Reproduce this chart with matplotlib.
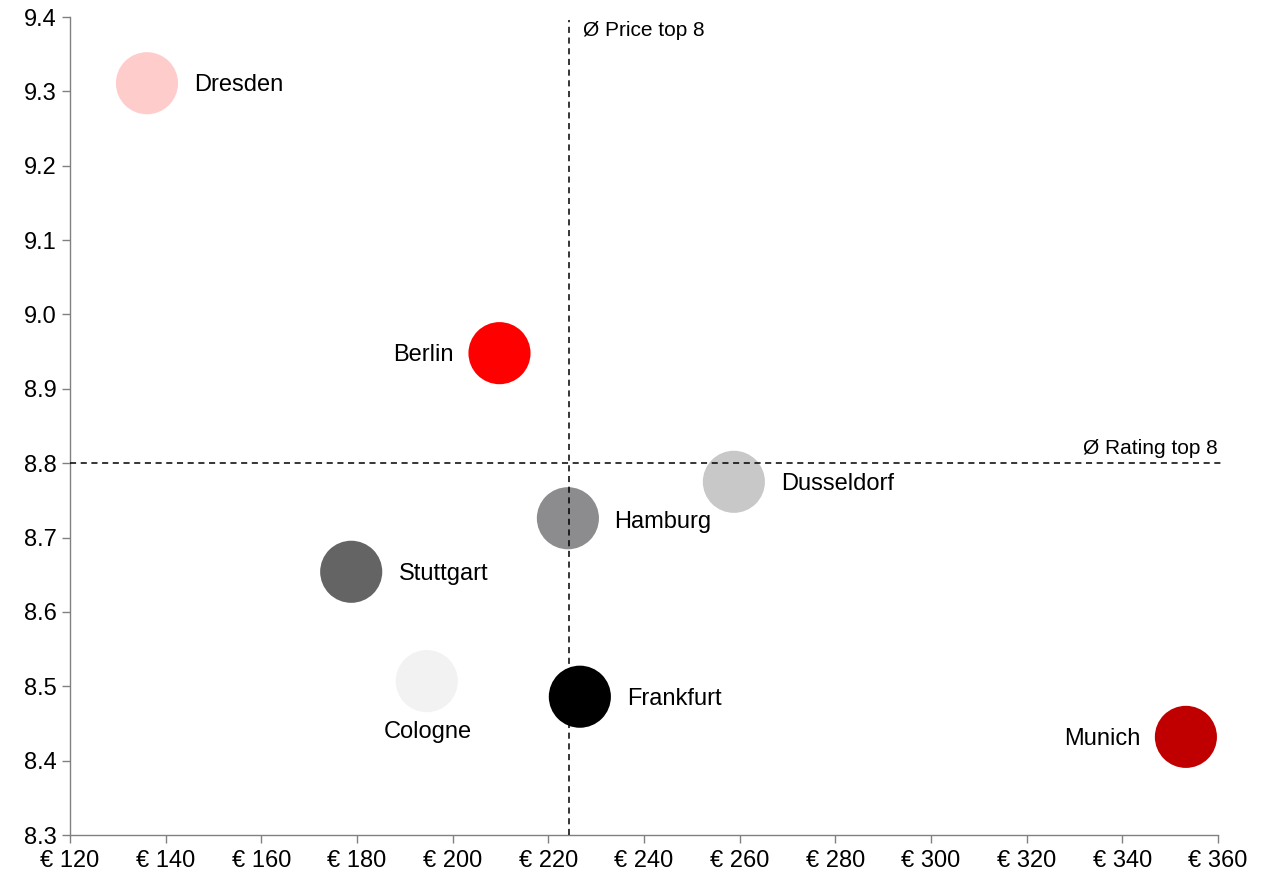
import matplotlib.pyplot as plt
from matplotlib.ticker import FuncFormatter

plt.rcParams['font.family'] = ['Liberation Sans', 'DejaVu Sans']

cities = ["Dresden", "Berlin", "Dusseldorf", "Hamburg", "Stuttgart", "Cologne", "Frankfurt", "Munich"]
price = [136.1, 209.8, 258.8, 224.1, 178.8, 194.6, 226.6, 353.3]
rating = [9.311, 8.948, 8.775, 8.726, 8.654, 8.507, 8.486, 8.432]
colors = ["#FFCCCC", "#FF0000", "#C8C8C8", "#8C8C8E", "#646464", "#F2F2F2", "#000000", "#C00000"]

avg_price = 224.3
avg_rating = 8.80

# label offsets in points (dx, dy, ha)
label_pos = {
    "Dresden": (34, -1.5, "left"),
    "Berlin": (-33, -1.5, "right"),
    "Dusseldorf": (34, -1.5, "left"),
    "Hamburg": (33, -2.5, "left"),
    "Stuttgart": (34, -1.5, "left"),
    "Cologne": (1, -37, "center"),
    "Frankfurt": (34, -1.5, "left"),
    "Munich": (-33, -1.5, "right"),
}

fig = plt.figure(figsize=(12.65, 8.74), dpi=100)
ax = fig.add_axes([0.0553, 0.0446, 0.9075, 0.9359])

ax.scatter(price, rating, s=2000, c=colors, linewidths=0, zorder=2)

for name, x, y in zip(cities, price, rating):
    dx, dy, ha = label_pos[name]
    ax.annotate(name, (x, y), xytext=(dx, dy), textcoords="offset points",
                ha=ha, va="center", fontsize=17)

# average lines
ax.plot([avg_price, avg_price], [8.3, 9.396], color="black", lw=1.1,
        dashes=(4, 3), zorder=3, clip_on=False)
ax.plot([120, 361.5], [avg_rating, avg_rating], color="black", lw=1.1,
        dashes=(4, 3), zorder=3, clip_on=False)
ax.annotate("Ø Price top 8", (avg_price, 9.396), xytext=(10, -1),
            textcoords="offset points", ha="left", va="top", fontsize=15)
ax.annotate("Ø Rating top 8", (360, avg_rating), xytext=(0, 4),
            textcoords="offset points", ha="right", va="bottom", fontsize=15)

ax.set_xlim(120, 360)
ax.set_ylim(8.3, 9.4)
ax.set_xticks(range(120, 361, 20))
ax.set_yticks([8.3 + 0.1 * i for i in range(12)])
ax.xaxis.set_major_formatter(FuncFormatter(lambda v, p: f"€ {v:.0f}"))
ax.yaxis.set_major_formatter(FuncFormatter(lambda v, p: f"{v:.1f}"))

for side in ["top", "right"]:
    ax.spines[side].set_visible(False)
for side in ["left", "bottom"]:
    ax.spines[side].set_color("#808080")
    ax.spines[side].set_linewidth(1.0)
ax.tick_params(colors="#808080", labelcolor="black", labelsize=17,
               length=6, width=1.0, direction="out")
ax.tick_params(axis="x", pad=5)

fig.savefig("out.png", dpi=100)
